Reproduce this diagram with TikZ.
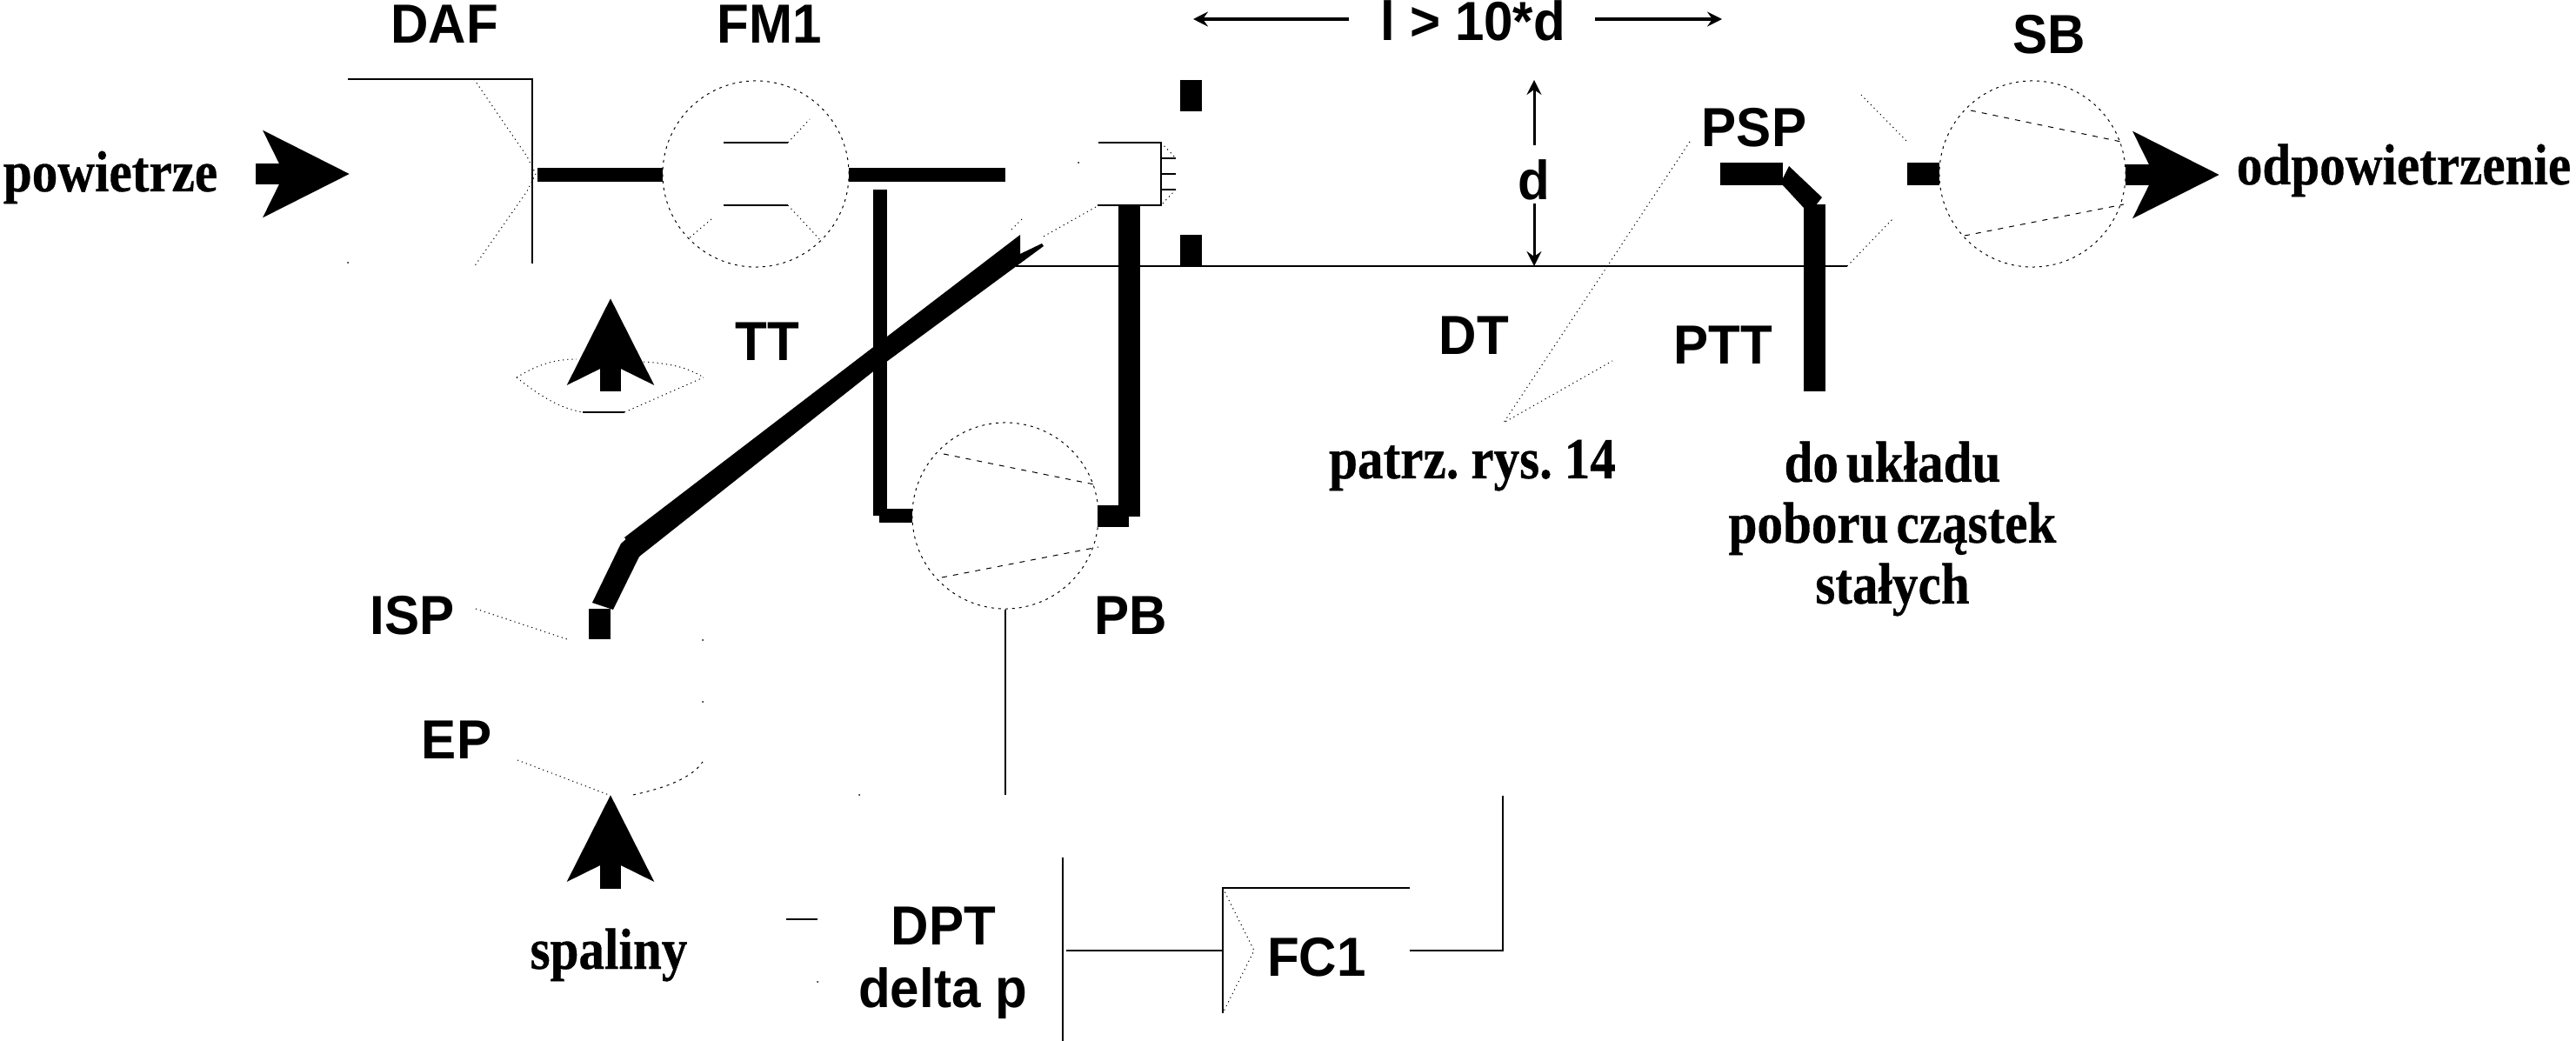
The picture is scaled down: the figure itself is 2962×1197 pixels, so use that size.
\documentclass[tikz,border=0pt]{standalone}
\usepackage{fontspec}
\setmainfont{Liberation Serif}[FakeStretch=0.885, WordSpace=0.6, BoldFeatures={FakeBold=0.5}]
\setsansfont{Liberation Sans}[FakeStretch=0.95]
\usetikzlibrary{arrows.meta}

\tikzset{
    lbl/.style={font=\sffamily\bfseries\fontsize{18pt}{20pt}\selectfont, inner sep=0pt, anchor=base},
    note/.style={font=\rmfamily\bfseries\fontsize{19pt}{19.9pt}\selectfont, inner sep=0pt, anchor=base},
    thinline/.style={line width=0.012cm},
    fine/.style={line width=0.01cm, dash pattern=on 0.03cm off 0.05cm},
    finedot/.style={line width=0.01cm, dash pattern=on 0.012cm off 0.04cm},
    chord/.style={line width=0.01cm, dash pattern=on 0.06cm off 0.07cm},
    device/.style={circle, draw, fine, minimum size=2.14cm, inner sep=0pt},
    bar/.style={line width=0.16cm},
    widebar/.style={line width=0.25cm},
    flow/.style={line width=0.24cm, -{Stealth[length=0.98cm,width=0.97cm,inset=0.23cm]}},
    dim/.style={line width=0.04cm, -{Stealth[length=0.17cm,width=0.17cm,inset=0.06cm]}},
    dimd/.style={line width=0.03cm, -{Stealth[length=0.17cm,width=0.17cm,inset=0.06cm]}}
}

\begin{document}
\begin{tikzpicture}[x=0.01cm,y=-0.01cm]
    \useasboundingbox (0,0) rectangle (2962,1197);

    \node[device] (FM1) at (869,200) {};
    \node[device] (PB) at (1156,593) {};
    \node[device] (SB) at (2337,200) {};

    \node[lbl] (L_DAF) at (511,50) {DAF};
    \node[lbl] (L_FM1) at (885,50) {FM1};
    \node[lbl] (L_TT) at (882,415) {TT};
    \node[lbl] (L_len) at (1694,47) {l > 10*d};
    \node[lbl] (L_d) at (1764,230) {d};
    \node[lbl] (L_DT) at (1695,408) {DT};
    \node[lbl] (L_PSP) at (2017,169) {PSP};
    \node[lbl] (L_PTT) at (1981,419) {PTT};
    \node[lbl] (L_SB) at (2356,62) {SB};
    \node[lbl] (L_ISP) at (474,729) {ISP};
    \node[lbl] (L_PB) at (1300,729) {PB};
    \node[lbl] (L_EP) at (525,872) {EP};
    \node[lbl] (L_DPT) at (1085,1086) {DPT};
    \node[lbl] (L_dp) at (1084,1158) {delta p};
    \node[lbl] (L_FC1) at (1514,1122) {FC1};

    \node[note] (N_air) at (127,220) {powietrze};
    \node[note] (N_vent) at (2764,212) {odpowietrzenie};
    \node[note] (N_exh) at (700,1114) {spaliny};
    \node[note] (N_see) at (1693,550) {patrz. rys. 14};
    \node[note, anchor=center, align=center] (N_pm) at (2176,608) {do układu\\poboru cząstek\\stałych};

    \coordinate (air_in) at (294,200);
    \coordinate (air_tip) at (402,200);
    \coordinate (dil_in) at (702,450);
    \coordinate (dil_tip) at (702,343);
    \coordinate (exh_in) at (702,1022);
    \coordinate (exh_tip) at (702,914);
    \coordinate (vent_in) at (2444,201);
    \coordinate (vent_tip) at (2552,201);
    \draw[flow] (air_in) -- (air_tip);
    \draw[flow] (dil_in) -- (dil_tip);
    \draw[flow] (exh_in) -- (exh_tip);
    \draw[flow] (vent_in) -- (vent_tip);

    \coordinate (len_a) at (1551,22);
    \coordinate (len_b) at (1372,22);
    \coordinate (len_c) at (1834,22);
    \coordinate (len_d) at (1980,22);
    \draw[dim] (len_a) -- (len_b);
    \draw[dim] (len_c) -- (len_d);
    \coordinate (d_a) at (1764,167);
    \coordinate (d_b) at (1764,92);
    \coordinate (d_c) at (1764,234);
    \coordinate (d_d) at (1764,306);
    \draw[dimd] (d_a) -- (d_b);
    \draw[dimd] (d_c) -- (d_d);

    % filter housing and its inlet cone
    \draw[thinline] (400,91) -| (612,303);
    \draw[finedot] (545,91) -- (606,180) -- (616,200) -- (606,220) -- (545,307);

    % inner lines of the flow meter
    \draw[thinline] (832,164) -- (906,164);
    \draw[thinline] (832,236) -- (906,236);
    \draw[finedot] (906,164) -- (931,137);
    \draw[finedot] (906,236) -- (945,278);
    \draw[finedot] (818,252) -- (791,275);

    % dilution air and exhaust outlines
    \draw[finedot] (594,434) .. controls (620,418) and (640,413) .. (663,413);
    \draw[finedot] (740,416) .. controls (770,418) and (790,422) .. (809,434);
    \draw[finedot] (594,434) .. controls (620,455) and (645,470) .. (670,474);
    \draw[thinline] (670,474) -- (718,474);
    \draw[finedot] (718,474) -- (809,434);
    \draw[finedot] (595,874) -- (700,914);
    \draw[fine] (728,914) .. controls (765,906) and (795,895) .. (808,876);

    % thick pipes
    \coordinate (DAF_out) at (618,201);
    \coordinate (FM1_in) at (762,201);
    \coordinate (FM1_out) at (976,201);
    \coordinate (FM1_end) at (1156,201);
    \draw[bar] (DAF_out) -- (FM1_in);
    \draw[bar] (FM1_out) -- (FM1_end);

    \coordinate (PB_pipe) at (1012,218);
    \coordinate (PB_bend) at (1012,593);
    \coordinate (PB_foot) at (1011,593);
    \coordinate (PB_in) at (1049,593);
    \draw[bar] (PB_pipe) -- (PB_bend);
    \draw[bar] (PB_foot) -- (PB_in);

    \coordinate (TT_top) at (1298.5,236);
    \coordinate (TT_low) at (1298.5,594);
    \coordinate (PB_out) at (1262,593.5);
    \coordinate (PB_return) at (1298,593.5);
    \draw[widebar] (TT_top) -- (TT_low);
    \draw[widebar] (PB_out) -- (PB_return);

    \fill (718,618) -- (1173,270) -- (1173,292) -- (1198,280) -- (1200,283) -- (1003,428) -- (735,640) -- cycle;
    \fill (714,625) -- (722,618) -- (736,638) -- (705,701) -- (681,693) -- cycle;
    \coordinate (ISP_top) at (689.5,700);
    \coordinate (ISP_end) at (689.5,735);
    \draw[widebar] (ISP_top) -- (ISP_end);

    \coordinate (wall_a) at (1369.5,92);
    \coordinate (wall_b) at (1369.5,128);
    \coordinate (wall_c) at (1369.5,270);
    \coordinate (wall_d) at (1369.5,306);
    \draw[widebar] (wall_a) -- (wall_b);
    \draw[widebar] (wall_c) -- (wall_d);

    \coordinate (PSP_a) at (1978,200);
    \coordinate (PSP_b) at (2050,200);
    \draw[line width=0.26cm] (PSP_a) -- (PSP_b);
    \fill (2057,191) -- (2095,227) -- (2088,236) -- (2074,239) -- (2050,213) -- (2050,205) -- cycle;
    \coordinate (PTT_a) at (2086.5,235);
    \coordinate (PTT_b) at (2086.5,450);
    \draw[widebar] (PTT_a) -- (PTT_b);

    \coordinate (SB_stub) at (2193,200);
    \coordinate (SB_in) at (2230,200);
    \draw[line width=0.26cm] (SB_stub) -- (SB_in);

    % nozzle at the tunnel entrance
    \draw[thinline] (1263,164) -| (1335,236) -- (1262,236);
    \foreach \y in {182,200,218}
        \draw[thinline] (1335,\y) -- (1352,\y);
    \draw[finedot] (1335,164) -- (1352,182);
    \draw[finedot] (1352,218) -- (1335,236);
    \draw[finedot] (1260,238) -- (1198,273);
    \draw[finedot] (1175,252) -- (1162,265);

    % tunnel wall
    \coordinate (DT_a) at (1168,306);
    \coordinate (DT_b) at (2124,306);
    \draw[thinline] (DT_a) -- (DT_b);

    % blower inlet cone and vanes
    \draw[finedot] (2124,306) -- (2176,252);
    \draw[finedot] (2140,109) -- (2193,163);
    \draw[chord] (2266,127) -- (2439,163);
    \draw[chord] (2259,271) -- (2442,235);
    \draw[chord] (1085,522) -- (1263,558);
    \draw[chord] (1083,664) -- (1263,629);

    % leaders
    \coordinate (ISP_lead) at (547,700);
    \coordinate (ISP_probe) at (652,735);
    \draw[finedot] (ISP_lead) -- (ISP_probe);
    \coordinate (PSP_lead) at (1943,163);
    \coordinate (see_tip) at (1729,486);
    \coordinate (see_end) at (1854,415);
    \draw[finedot] (PSP_lead) -- (see_tip) -- (see_end);

    % pressure transducer and flow controller
    \coordinate (PB_tap) at (1156,914);
    \draw[thinline] (PB.south) -- (PB_tap);
    \coordinate (DPT_a) at (1222,986);
    \coordinate (DPT_b) at (1222,1197);
    \draw[thinline] (DPT_a) -- (DPT_b);
    \coordinate (DPT_left) at (904,1057);
    \coordinate (DPT_lend) at (940,1057);
    \draw[thinline] (DPT_left) -- (DPT_lend);
    \coordinate (FC1_in) at (1226,1093);
    \coordinate (FC1_wall) at (1406,1093);
    \draw[thinline] (FC1_in) -- (FC1_wall);
    \draw[thinline] (1621,1021) -- (1406,1021) -- (1406,1165);
    \draw[finedot] (1406,1021) -- (1442,1093) -- (1406,1165);
    \coordinate (FC1_out) at (1621,1093);
    \coordinate (FC1_end) at (1728,915);
    \draw[thinline] (FC1_out) -| (FC1_end);

    \foreach \x/\y in {400/302,988/914,940/1129,808/736,808/807,1240/187}
        \fill (\x,\y) circle[radius=1];
\end{tikzpicture}
\end{document}
